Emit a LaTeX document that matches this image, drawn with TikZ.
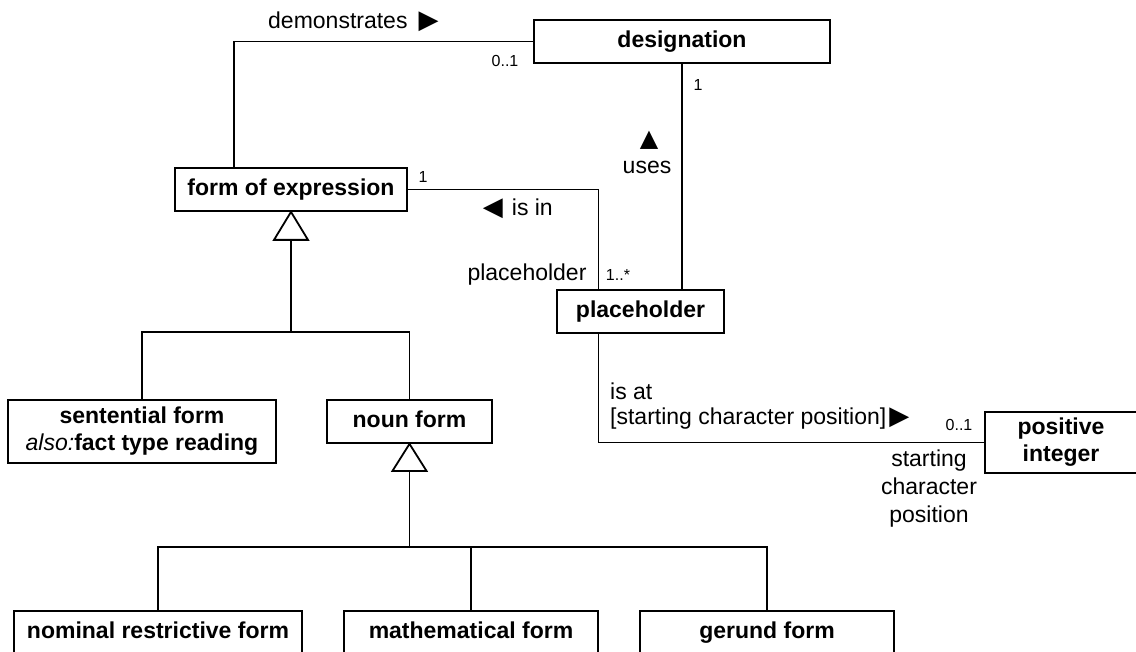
\documentclass[tikz,border=0pt]{standalone}
\usepackage{fontspec}
\setmainfont{Liberation Sans}
\newfontfamily\symfont{DejaVu Sans}
\usetikzlibrary{calc}
\newcommand{\rarr}{{\symfont\fontsize{26}{26}\selectfont ▶}}
\newcommand{\larr}{{\symfont\fontsize{26}{26}\selectfont ◀}}
\newcommand{\uarr}{{\symfont\fontsize{24}{24}\selectfont ▲}}
\begin{document}
\begin{tikzpicture}[x=1pt,y=-1pt,
  cls/.style={draw, line width=1.8pt, fill=white, inner sep=0pt, align=center,
              font=\fontsize{23}{27}\selectfont\bfseries},
  oneline/.style={text height=16.5pt, text depth=4.8pt},
  assoc/.style={line width=1.1pt},
  gen/.style={line width=1.8pt, fill=white, line join=miter},
  lbl/.style={font=\fontsize{23}{28}\selectfont, inner sep=0pt},
  mult/.style={font=\fontsize{16}{18}\selectfont, inner sep=0pt}]
\useasboundingbox (0,0) rectangle (1136,652);

% classes
\node[cls, oneline, minimum width=296pt, minimum height=43pt] (desig) at (682,41.5) {designation};
\node[cls, oneline, minimum width=232pt, minimum height=43pt] (foe) at (291,189.5) {form of expression};
\node[cls, oneline, minimum width=167pt, minimum height=43pt] (ph) at (640.5,311.5) {placeholder};
\node[cls, minimum width=152pt, minimum height=61pt] (pint) at (1061,442.5) {positive\\integer};
\node[cls, minimum width=268pt, minimum height=63pt] (sent) at (142,431.5)
  {sentential form\\{\mdseries\itshape also:}fact type reading};
\node[cls, oneline, minimum width=165pt, minimum height=43pt] (noun) at (409.5,421.5) {noun form};
\node[cls, oneline, minimum width=288pt, minimum height=43pt] (nom) at (158,632.5) {nominal restrictive form};
\node[cls, oneline, minimum width=254pt, minimum height=43pt] (math) at (471,632.5) {mathematical form};
\node[cls, oneline, minimum width=254pt, minimum height=43pt] (ger) at (767,632.5) {gerund form};

% associations
\coordinate (demx) at (234,0);
\draw[assoc] (foe.north -| demx) |- (desig.west);
\coordinate (isinx) at (598.5,0);
\draw[assoc] (foe.east) -| (ph.north -| isinx);
\draw[assoc] (desig.south) -- (ph.north -| desig.south);
\draw[assoc] (ph.south -| isinx) |- (pint.west);

% generalization: form of expression
\coordinate (g1base) at ($(foe.south)+(0,28)$);
\coordinate (g1bar) at (291,332);
\draw[assoc] (g1base) -- (g1bar);
\draw[assoc] (sent.north) |- (g1bar) -| (noun.north);
\draw[gen] (foe.south) -- ++(-17,28) -- ++(34,0) -- cycle;

% generalization: noun form
\coordinate (g2base) at ($(noun.south)+(0,27)$);
\coordinate (g2bar) at (409.5,547);
\draw[assoc] (g2base) -- (g2bar);
\draw[assoc] (nom.north) |- (ger.north |- g2bar) -- (ger.north);
\draw[assoc] (math.north) -- (math.north |- g2bar);
\draw[gen] (noun.south) -- ++(-17,27) -- ++(34,0) -- cycle;

% association labels
\node[lbl, anchor=west] (demlbl) at (268,22) {demonstrates\hspace{11pt}\rarr};
\node[mult] (m1) at (505,61) {0..1};
\node[mult] (m2) at (698,85) {1};
\node[lbl] (usesarr) at (649,140) {\uarr};
\node[lbl] (useslbl) at (647,167) {uses};
\node[mult] (m3) at (423,177) {1};
\node[lbl, anchor=east] (isinlbl) at (553,209) {\larr\hspace{9pt}is in};
\node[lbl] (phrole) at (527,275) {placeholder};
\node[mult] (m4) at (618,275) {1..*};
\node[lbl, anchor=west] (isatlbl) at (610,391) {is at};
\node[lbl, anchor=west] (isatlbl2) at (610,419) {[starting character position]\hspace{3pt}\rarr};
\node[mult] (m5) at (959,425) {0..1};
\node[lbl, align=center] (posrole) at (929,489) {starting\\character\\position};
\end{tikzpicture}
\end{document}
